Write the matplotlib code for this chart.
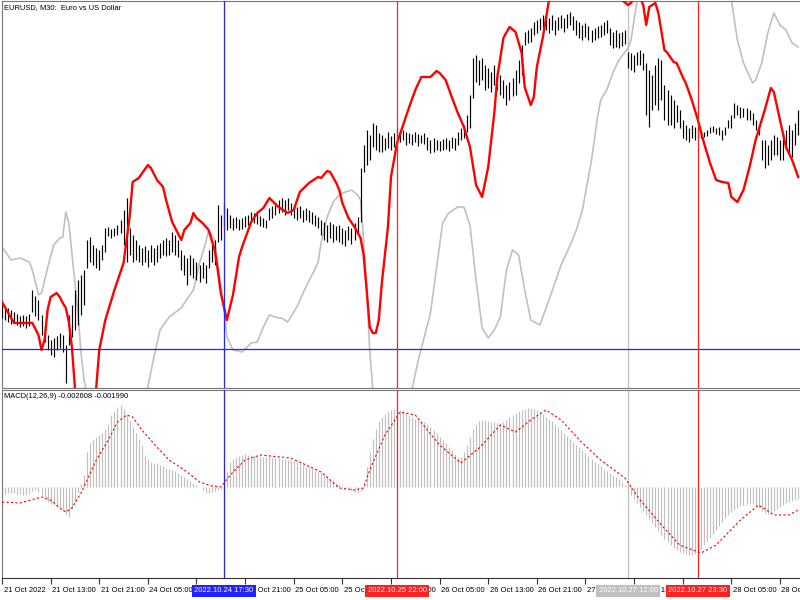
import numpy as np
import matplotlib
matplotlib.use("Agg")
import matplotlib.pyplot as plt
from matplotlib.transforms import blended_transform_factory

# ---------------- data (prices in 1e-4 units) ----------------
bar_high = [9797,9794,9792,9790,9788,9786,9784,9785,9784,9786,
            9810,9804,9800,9785,9775,9765,9760,9762,9764,9767,
            9765,9755,9785,9795,9810,9820,9825,9830,9860,9863,
            9855,9852,9850,9855,9872,9873,9871,9872,9875,9880,
            9890,9902,9872,9865,9860,9855,9852,9854,9850,9855,
            9852,9855,9857,9860,9862,9860,9868,9865,9860,9850,
            9845,9842,9845,9842,9838,9835,9838,9835,9850,9855,
            9860,9895,9885,9897,9892,9885,9882,9883,9881,9882,
            9884,9885,9888,9887,9886,9884,9882,9880,9892,9894,
            9895,9900,9902,9900,9902,9897,9895,9893,9894,9890,
            9892,9890,9888,9885,9883,9880,9878,9875,9878,9876,
            9874,9875,9872,9870,9874,9872,9877,9883,9932,9955,
            9970,9965,9977,9975,9967,9965,9962,9968,9964,9967,
            9972,9968,9970,9968,9967,9966,9968,9966,9965,9967,
            9963,9960,9962,9960,9959,9961,9962,9960,9963,9962,
            9968,9972,9975,9985,10005,10042,10045,10040,10042,10035,
            10032,10028,10035,10030,10025,10020,10015,10018,10022,10030,
            10040,10055,10068,10070,10072,10078,10080,10082,10085,10083,
            10082,10085,10080,10083,10085,10082,10086,10088,10084,10080,
            10078,10075,10077,10074,10070,10072,10074,10075,10078,10080,
            10072,10068,10070,10067,10068,10070,10048,10047,10045,10048,
            10050,10047,10037,10030,10025,10035,10042,10040,10015,10010,
            10005,10000,9995,9990,9980,9975,9972,9975,9973,9975,
            9970,9968,9970,9973,9974,9972,9973,9970,9973,9980,
            9985,9997,9995,9993,9992,9992,9990,9987,9980,9975,
            9960,9960,9955,9960,9965,9963,9960,9965,9970,9975,
            9970,9977,9990]
bar_low = [9782,9780,9778,9776,9778,9775,9773,9774,9772,9774,
           9788,9784,9780,9765,9758,9750,9745,9743,9750,9752,
           9748,9717,9755,9763,9770,9775,9785,9795,9832,9838,
           9835,9832,9830,9840,9848,9864,9862,9864,9865,9867,
           9855,9838,9845,9838,9840,9838,9835,9838,9833,9838,
           9835,9838,9842,9845,9844,9845,9848,9845,9843,9830,
           9825,9815,9825,9822,9820,9818,9822,9817,9832,9838,
           9835,9858,9860,9872,9870,9872,9870,9872,9870,9871,
           9873,9875,9878,9877,9876,9874,9873,9872,9880,9882,
           9885,9887,9888,9885,9890,9885,9882,9880,9882,9878,
           9880,9878,9876,9874,9872,9865,9860,9858,9862,9858,
           9860,9858,9856,9854,9860,9856,9860,9865,9878,9928,
           9935,9940,9953,9950,9948,9948,9950,9952,9950,9953,
           9958,9958,9960,9955,9957,9955,9958,9954,9957,9956,
           9950,9947,9948,9950,9949,9950,9951,9949,9952,9950,
           9955,9960,9962,9968,9972,10002,10018,10015,10020,10010,
           10012,10008,10015,10010,10005,10002,9995,10000,10004,10005,
           10017,10025,10055,10057,10058,10065,10067,10070,10072,10070,
           10067,10070,10065,10070,10072,10068,10072,10075,10070,10065,
           10062,10060,10063,10060,10058,10060,10062,10063,10065,10067,
           10055,10052,10053,10052,10054,10056,10032,10030,10028,10035,
           10035,10030,9985,9973,9990,9995,9990,10000,9980,9975,
           9975,9972,9978,9972,9962,9960,9958,9962,9960,9963,
           9962,9963,9964,9967,9968,9966,9965,9960,9965,9972,
           9972,9982,9985,9982,9983,9980,9980,9975,9970,9965,
           9940,9932,9935,9940,9945,9945,9940,9940,9950,9945,
           9943,9955,9965]

# red indicator line (bar index, value)
red_idx = [0,3,4,8,10,12,13,14,15,16,18,19,20,21,22,23,24,26,28,30,31,32,34,37,40,42,43,
           45,48,49,51,53,54,56,59,60,62,63,64,66,68,70,71,72,74,76,78,79,82,84,86,88,91,94,
           96,98,101,104,105,107,108,110,111,112,114,116,118,119,120,121,122,123,124,125,127,
           128,130,132,134,136,138,141,143,144,146,148,150,152,154,156,158,160,162,163,165,
           167,169,171,172,174,175,176,178,180,185,194,202,204,206,207,209,211,212,213,215,
           216,218,219,221,222,224,225,227,229,231,233,235,237,239,240,242,244,246,248,251,
           253,254,256,258,260,262]
red_val = [9798,9782,9777,9777,9777,9765,9750,9760,9790,9803,9807,9803,9797,9792,9778,9753,
           9712,9690,9680,9690,9712,9750,9780,9810,9837,9883,9918,
           9922,9935,9932,9920,9913,9900,9878,9860,9870,9877,9887,9882,9877,9870,9850,9830,
           9807,9780,9805,9843,9853,9878,9887,9892,9902,9893,9887,
           9890,9908,9917,9923,9922,9929,9928,9917,9910,9897,9882,9873,9862,9845,9810,9773,
           9767,9767,9780,9817,9873,
           9923,9957,9975,9993,10010,10023,10023,10029,10027,10020,10003,9987,9973,9953,
           9915,9903,9933,9987,10023,10062,
           10073,10068,10047,10013,9995,10003,10033,10063,10100,10130,10140,10120,10100,
           10095,10097,10110,10095,10075,10093,10097,
           10087,10050,10047,10038,10037,10023,10017,10000,9980,9957,9937,9920,9918,9917,
           9903,9898,9910,9933,9960,9990,
           10012,10008,9980,9953,9940,9923]

# grey indicator line (bar index, value)
grey_idx = [0,3,6,9,10,12,13,15,17,19,20,21,22,23,25,26,27,31,37,44,48,50,52,55,59,60,63,
            65,67,68,70,71,73,74,76,79,82,84,86,88,91,92,94,97,100,104,105,107,109,111,113,
            115,117,118,119,120,121,122,126,131,135,137,141,145,147,150,152,154,156,158,160,
            162,164,166,168,170,172,174,177,180,184,187,189,191,194,196,197,199,201,203,206,
            207,208,209,217,230,238,240,242,244,247,248,250,252,254,256,258,260,262]
grey_val = [9853,9840,9842,9838,9830,9805,9807,9832,9855,9862,9863,9888,9877,9847,9787,
            9747,9720,9660,9630,9660,9713,9743,9770,9783,9792,9797,9810,
            9837,9857,9870,9860,9837,9793,9763,9750,9748,9757,9758,9773,9785,9782,9782,9778,
            9793,9813,9837,9857,9883,9898,9905,9908,
            9910,9905,9900,9860,9813,9750,9712,9660,9660,9712,9740,9787,9877,9887,9893,9893,
            9875,9820,9772,9762,
            9770,9783,9830,9850,9845,9810,9780,9775,9800,9835,9855,9870,9890,9940,9983,10000,
            10010,10027,10040,10052,
            10060,10080,10100,10150,10150,10115,10100,10060,10037,10017,10020,10037,10067,
            10087,10075,10070,10057,10053]

# MACD histogram (units of 0.00005)
macd_hist = [-7,-7,-6,-6,-6,-7,-7,-8,-8,-7,
             -4,-3,-5,-8,-12,-15,-17,-18,-20,-20,
             -24,-28,-30,-22,-15,-6,3,12,35,44,
             47,50,52,54,58,63,72,76,80,82,
             78,72,66,60,54,48,42,32,28,25,
             24,23,22,21,19,18,17,16,14,12,
             10,8,6,4,2,0,-3,-5,-6,-5,
             -4,-3,-2,3,15,25,28,30,31,32,
             33,32,32,31,31,31,30,30,30,29,
             29,29,28,28,27,27,26,25,24,22,
             20,19,18,16,15,14,12,10,8,6,
             4,3,1,-1,-2,-4,-5,-5,-4,5,
             20,35,48,58,66,70,73,75,77,78,
             78,77,76,74,72,70,68,67,66,65,
             63,60,57,54,50,47,44,40,37,33,
             30,30,35,42,50,58,63,66,67,67,
             66,65,65,64,64,65,67,70,72,74,
             76,77,78,79,79,78,77,75,73,70,
             68,66,63,60,57,54,51,48,45,42,
             40,37,34,31,28,25,23,21,18,16,
             14,12,10,8,5,2,-3,-8,-12,-16,
             -20,-24,-28,-32,-36,-40,-44,-48,-52,-55,
             -58,-61,-63,-65,-66,-67,-68,-68,-67,-65,
             -62,-58,-55,-51,-47,-43,-39,-35,-31,-28,
             -25,-23,-21,-19,-18,-17,-16,-17,-19,-21,
             -24,-26,-27,-26,-24,-22,-20,-18,-16,-15,
             -14,-13,-12]
sig_idx = [0,6,13,16,19,21,23,26,28,31,35,38,41,43,46,51,55,60,63,65,69,72,76,80,85,95,
           105,111,116,119,121,126,131,136,144,151,157,164,169,174,179,184,190,197,205,210,
           217,223,230,235,243,249,254,259,262]
sig_val = [-15,-16,-10,-13,-21,-25,-21,-6,7,27,47,65,72,70,57,40,27,17,10,5,1,0,15,27,32,29,
           15,-1,-3,-1,17,52,75,72,42,24,39,62,55,67,77,67,47,27,9,-13,
           -38,-58,-66,-58,-33,-18,-28,-28,-23]

tick_idx = [0,16,32,48,64,80,96,112,128,144,160,176,192,208,224,240,256]
tick_text = ['21 Oct 2022','21 Oct 13:00','21 Oct 21:00','24 Oct 05:00','24 Oct 13:00',
             '24 Oct 21:00','25 Oct 05:00','25 Oct 13:00','25 Oct 21:00','26 Oct 05:00',
             '26 Oct 13:00','26 Oct 21:00','27 Oct 05:00','27 Oct 13:00','27 Oct 21:00',
             '28 Oct 05:00','28 Oct 13:00']

cross_h_price = 9751
vlines_idx = [73, 130, 206, 229]
vlines_lab = ['2022.10.24 17:30','2022.10.25 22:00','2022.10.27 12:00','2022.10.27 23:30']
vlines_col = ['#2222ff','#ff2020','#c0c0c0','#ff2020']

title_main = 'EURUSD, M30:  Euro vs US Dollar'
title_macd = 'MACD(12,26,9) -0.002608 -0.001990'

# ---------------- drawing ----------------
plt.rcParams['font.family'] = ['Liberation Sans', 'DejaVu Sans']
W, H = 800, 600
FS = 5.5
fig = plt.figure(figsize=(8, 6), dpi=100)
fig.patch.set_facecolor('white')

def rect(x0, y0, x1, y1):
    return [x0 / W, 1 - y1 / H, (x1 - x0) / W, (y1 - y0) / H]

ax = fig.add_axes(rect(2, 1, 800, 388))
mx = fig.add_axes(rect(2, 390, 800, 578), sharex=ax)

n = min(len(bar_high), len(bar_low))
idx = np.arange(n)
hi = np.array(bar_high[:n]) / 1e4
lo = np.array(bar_low[:n]) / 1e4
ax.vlines(idx, lo, hi, color='black', lw=0.85, zorder=3)

ax.plot(grey_idx, np.array(grey_val) / 1e4, color='#c0c0c0', lw=1.2, zorder=2)
ax.plot(red_idx, np.array(red_val) / 1e4, color='#ff0000', lw=1.7, zorder=4)
ax.axhline(cross_h_price / 1e4, color='#2222ff', lw=0.9, zorder=5)

ax.set_xlim(0.1, 262.6)
ax.set_ylim(0.9712, 1.0099)

m = np.array(macd_hist) * 5e-5
mi = np.arange(len(m))
mx.vlines(mi, 0, m, color='#c0c0c0', lw=0.85, zorder=2)
mx.plot(sig_idx, np.array(sig_val) * 5e-5, color='#ff0000', lw=0.8,
        linestyle=(0, (2, 2)), zorder=3)
mx.set_ylim(-91 * 5e-5, 97 * 5e-5)

for a in (ax, mx):
    for xi, c in zip(vlines_idx, vlines_col):
        a.axvline(xi, color=c, lw=0.9, zorder=1 if c == '#c0c0c0' else 5)
    a.set_yticks([])
    a.spines['right'].set_visible(False)
    for s in ('left', 'top', 'bottom'):
        a.spines[s].set_color('#777777')
        a.spines[s].set_linewidth(0.8)
    a.set_facecolor('white')

ax.tick_params(axis='x', bottom=False, labelbottom=False)
mx.spines['bottom'].set_color('#333333')
mx.set_xticks(tick_idx)
mx.set_xticklabels([])
mx.tick_params(axis='x', direction='out', length=4, width=0.8, color='#333333')

trans = blended_transform_factory(mx.transData, fig.transFigure)
ylab = 1 - 591 / H
for xi, t in zip(tick_idx, tick_text):
    mx.text(xi + 0.5, ylab, t, transform=trans, ha='left', va='center',
            fontsize=FS, color='black', clip_on=False, zorder=10)
for xi, t, c in zip(vlines_idx, vlines_lab, vlines_col):
    mx.text(xi, ylab, t, transform=trans, ha='center', va='center', fontsize=FS,
            color='white', clip_on=False, zorder=20,
            bbox=dict(boxstyle='square,pad=0.3', facecolor=c, edgecolor='none'))

fig.text(4 / W, 1 - 8 / H, title_main, fontsize=5.4, ha='left', va='center')
fig.text(4 / W, 1 - 397 / H, title_macd, fontsize=5.4, ha='left', va='center')

fig.savefig('out.png', dpi=100, facecolor='white')
